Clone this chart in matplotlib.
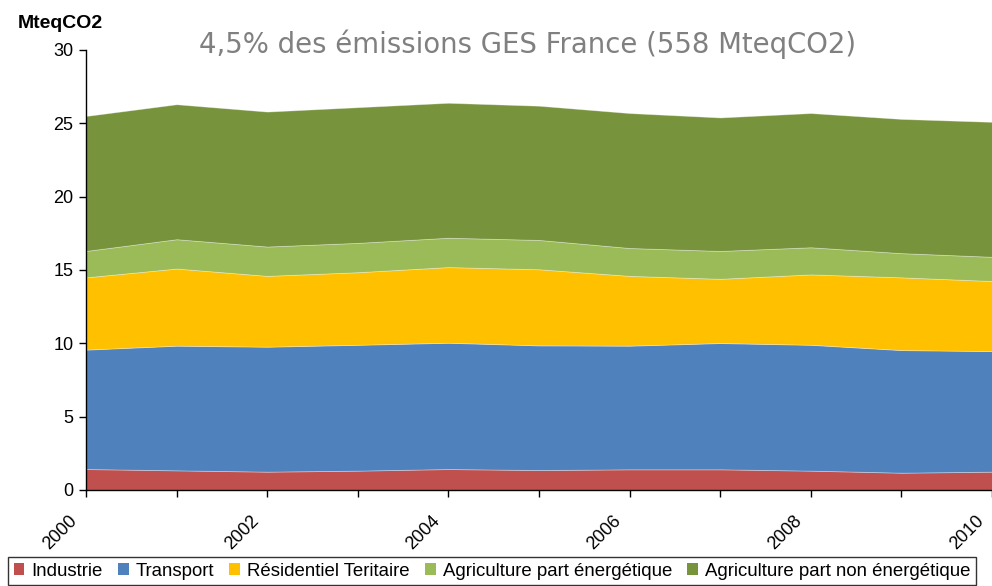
import matplotlib
matplotlib.use("Agg")
import matplotlib.pyplot as plt
from matplotlib.patches import Patch
from matplotlib.transforms import ScaledTranslation

years = [2000, 2001, 2002, 2003, 2004, 2005, 2006, 2007, 2008, 2009, 2010]
industrie = [1.43, 1.34, 1.25, 1.32, 1.43, 1.36, 1.41, 1.41, 1.32, 1.18, 1.25]
transport = [8.14, 8.50, 8.52, 8.58, 8.61, 8.50, 8.43, 8.61, 8.58, 8.36, 8.22]
residentiel = [4.93, 5.26, 4.83, 4.95, 5.16, 5.19, 4.76, 4.38, 4.80, 4.96, 4.78]
agri_energie = [1.80, 2.00, 2.00, 2.00, 2.00, 2.00, 1.90, 1.90, 1.85, 1.65, 1.65]
agri_non_energie = [9.20, 9.20, 9.20, 9.25, 9.20, 9.15, 9.20, 9.10, 9.15, 9.15, 9.20]

labels = ["Industrie", "Transport", "Résidentiel Teritaire",
          "Agriculture part énergétique", "Agriculture part non énergétique"]
colors = ["#C0504D", "#4F81BD", "#FFC000", "#9BBB59", "#77933C"]
ytick_values = [0, 5, 10, 15, 20, 25, 30]
xtick_labels = [2000, 2002, 2004, 2006, 2008, 2010]

plt.rcParams['font.family'] = ['Liberation Sans', 'DejaVu Sans']

fig = plt.figure(figsize=(9.92, 5.86), dpi=100)
ax = fig.add_axes([86/992, 1-490/586, 1-86/992, (490-50)/586])

ax.stackplot(years, industrie, transport, residentiel, agri_energie, agri_non_energie,
             colors=colors, edgecolor=(1, 1, 1, 0.35), linewidth=0.6)

ax.set_xlim(2000, 2010)
ax.set_ylim(0, 30)
ax.set_yticks(ytick_values)
ax.set_xticks(years)
ax.set_xticklabels([str(y) if y in xtick_labels else "" for y in years],
                   rotation=45, ha='right', va='top')
ax.tick_params(axis='both', labelsize=13, direction='out', length=5, width=1, colors='black')
ax.tick_params(axis='x', pad=11)
ax.tick_params(axis='y', pad=4)
offset = ScaledTranslation(-5/100, 0, fig.dpi_scale_trans)
for lab in ax.get_xticklabels():
    lab.set_transform(lab.get_transform() + offset)
for s in ['top', 'right']:
    ax.spines[s].set_visible(False)
for s in ['left', 'bottom']:
    ax.spines[s].set_color('black')
    ax.spines[s].set_linewidth(1)

fig.text(18/992, 1-28/586, "MteqCO2", fontsize=14, fontweight='bold', va='baseline', ha='left')
fig.text(528/992, 1-53/586, "4,5% des émissions GES France (558 MteqCO2)", fontsize=19.8,
         color='#808080', va='baseline', ha='center', family=['DejaVu Sans'])

handles = [Patch(facecolor=c, edgecolor='none') for c in colors]
leg = fig.legend(handles, labels, loc='upper left', bbox_to_anchor=(8/992, 1-557/586),
                 ncol=5, fontsize=13.4, frameon=True, fancybox=False, borderpad=0.3,
                 handlelength=0.57, handleheight=0.57, handletextpad=0.4,
                 columnspacing=0.8, borderaxespad=0)
leg.get_frame().set_edgecolor('black')
leg.get_frame().set_linewidth(1)

fig.savefig("out.png", dpi=100)
